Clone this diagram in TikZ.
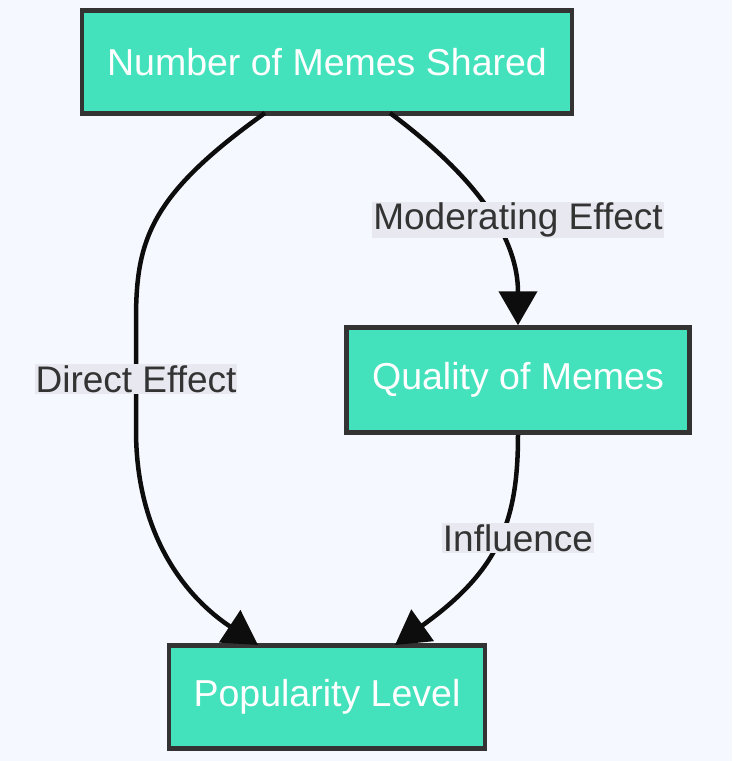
\documentclass[tikz,border=0pt]{standalone}
\usepackage{fontspec}
\setmainfont{Liberation Sans}
\usetikzlibrary{arrows.meta}
\definecolor{boxfill}{HTML}{43E2BC}
\definecolor{boxline}{HTML}{333333}
\definecolor{bgcol}{HTML}{F5F8FF}
\definecolor{lblbg}{HTML}{E8E8F0}
\tikzset{
  box/.style={draw=boxline, line width=4.5pt, fill=boxfill, text=white, font=\fontsize{37.5}{42}\selectfont},
  lbl/.style={fill=lblbg, text=boxline, inner sep=1pt, font=\fontsize{37}{40}\selectfont},
  link/.style={line width=4.5pt, draw=black!95, -{Triangle[length=34pt,width=38pt]}},
}
\begin{document}
\begin{tikzpicture}[x=1pt,y=-1pt]
    \path [fill=bgcol] (0,0) rectangle (732,761);
    \node [box, minimum width=490pt, minimum height=103pt] (shared) at (327,62) {Number of Memes Shared};
    \node [box, minimum width=343pt, minimum height=105pt] (quality) at (518,380) {Quality of Memes};
    \node [box, minimum width=316pt, minimum height=103pt] (popular) at (327,697) {Popularity Level};
    
    \draw [link] (265,113) .. controls (150,195) and (136,240) .. (136,320) -- (136,430) .. controls (136,540) and (190,600) .. (258,645);
    \draw [link] (390,113) .. controls (480,180) and (518,240) .. (quality.north);
    \draw [link] (quality.south) .. controls (518,520) and (500,570) .. (395,645);
    
    \node [lbl] (direct) at (136,379) {Direct Effect};
    \node [lbl] (moder) at (518,220) {Moderating Effect};
    \node [lbl] (infl) at (518,538) {Influence};
\end{tikzpicture}
\end{document}
